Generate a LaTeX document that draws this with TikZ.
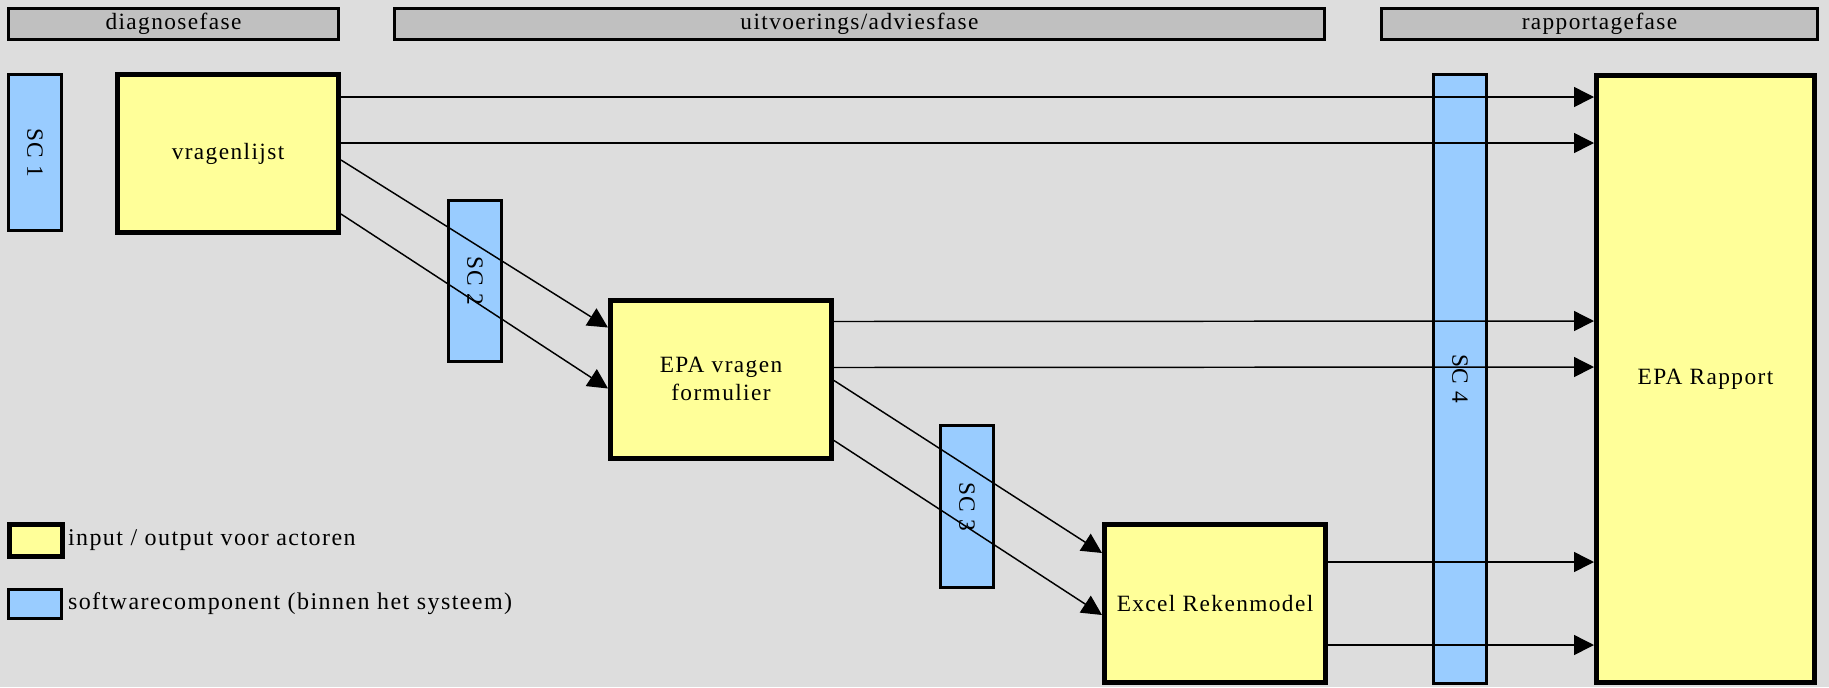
\documentclass[tikz,border=0pt]{standalone}
\usepackage{fontspec}
\setmainfont[LetterSpace=6]{Liberation Serif}
\usetikzlibrary{arrows.meta,calc}
\definecolor{bg}{HTML}{DDDDDD}
\definecolor{hdr}{HTML}{C0C0C0}
\definecolor{io}{HTML}{FFFF99}
\definecolor{sw}{HTML}{99CCFF}
\begin{document}
\begin{tikzpicture}[x=0.75pt,y=-0.75pt,
  every node/.style={inner sep=0pt,outer sep=auto,font=\fontsize{17.5pt}{21pt}\selectfont,align=center},
  hdrbox/.style={draw=black,fill=hdr,line width=2.25pt,minimum height=23.25pt},
  iobox/.style={draw=black,fill=io,line width=3.75pt},
  swbox/.style={draw=black,fill=sw,line width=2.25pt,minimum width=39.75pt},
  conn/.style={line width=1.1pt,-{Triangle[length=15pt,width=15pt]}},
  legtext/.style={anchor=west,font=\fontsize{18pt}{21pt}\selectfont}]
\path[fill=bg,use as bounding box] (0,0) rectangle (1829,687);
% headers
\node[hdrbox,minimum width=247.5pt] (h1) at (173.5,24) {diagnosefase};
\node[hdrbox,minimum width=697.5pt] (h2) at (859.5,24) {uitvoerings/adviesfase};
\node[hdrbox,minimum width=327pt] (h3) at (1599.5,24) {rapportagefase};
% software components
\node[swbox,minimum height=117pt] (sc1) at (35,152.5) {};
\node[rotate=-90] (sc1t) at (sc1.center) {SC 1};
\node[swbox,minimum height=120.75pt] (sc2) at (475,281) {};
\node[swbox,minimum height=121.5pt] (sc3) at (967,506.5) {};
\node[swbox,minimum height=456.75pt] (sc4) at (1460,379) {};
% io boxes
\node[iobox,minimum width=165.75pt,minimum height=118.5pt] (vl) at (228,153.5) {vragenlijst};
\node[iobox,minimum width=165.75pt,minimum height=118.5pt] (epa) at (721,379) {EPA vragen\\formulier};
\node[iobox,minimum width=165.75pt,minimum height=118.5pt] (xl) at (1215,603.5) {Excel Rekenmodel};
\node[iobox,minimum width=163.5pt,minimum height=455.25pt] (rap) at (1705.5,379) {EPA Rapport};
% connectors
\draw[conn] ($(vl.north east)+(0,25)$) -- ($(rap.north west)+(0,24)$);
\draw[conn] ($(vl.north east)+(0,71)$) -- ($(rap.north west)+(0,70)$);
\draw[conn] ($(vl.north east)+(0,88)$) -- ($(epa.north west)+(0,30)$);
\draw[conn] ($(vl.north east)+(0,142)$) -- ($(epa.north west)+(0,91)$);
\draw[conn] ($(epa.north east)+(0,24)$) -- ($(rap.north west)+(0,248)$);
\draw[conn] ($(epa.north east)+(0,70)$) -- ($(rap.north west)+(0,294)$);
\draw[conn] ($(epa.north east)+(0,83)$) -- ($(xl.north west)+(0,31)$);
\draw[conn] ($(epa.north east)+(0,143)$) -- ($(xl.north west)+(0,93)$);
\draw[conn] ($(xl.north east)+(0,40)$) -- ($(rap.north west)+(0,489)$);
\draw[conn] ($(xl.north east)+(0,123)$) -- ($(rap.north west)+(0,572)$);
% labels on top of connectors
\node[rotate=-90] (sc2t) at (sc2.center) {SC 2};
\node[rotate=-90] (sc3t) at (sc3.center) {SC 3};
\node[rotate=-90] (sc4t) at (sc4.center) {SC 4};
% legend
\node[iobox,minimum width=39.75pt,minimum height=24pt] (lg1) at (36,540.5) {};
\node[legtext] (lg1t) at (68,540) {input / output voor actoren};
\node[swbox,minimum height=21.75pt] (lg2) at (35,604) {};
\node[legtext] (lg2t) at (68,604) {softwarecomponent (binnen het systeem)};
\end{tikzpicture}
\end{document}
